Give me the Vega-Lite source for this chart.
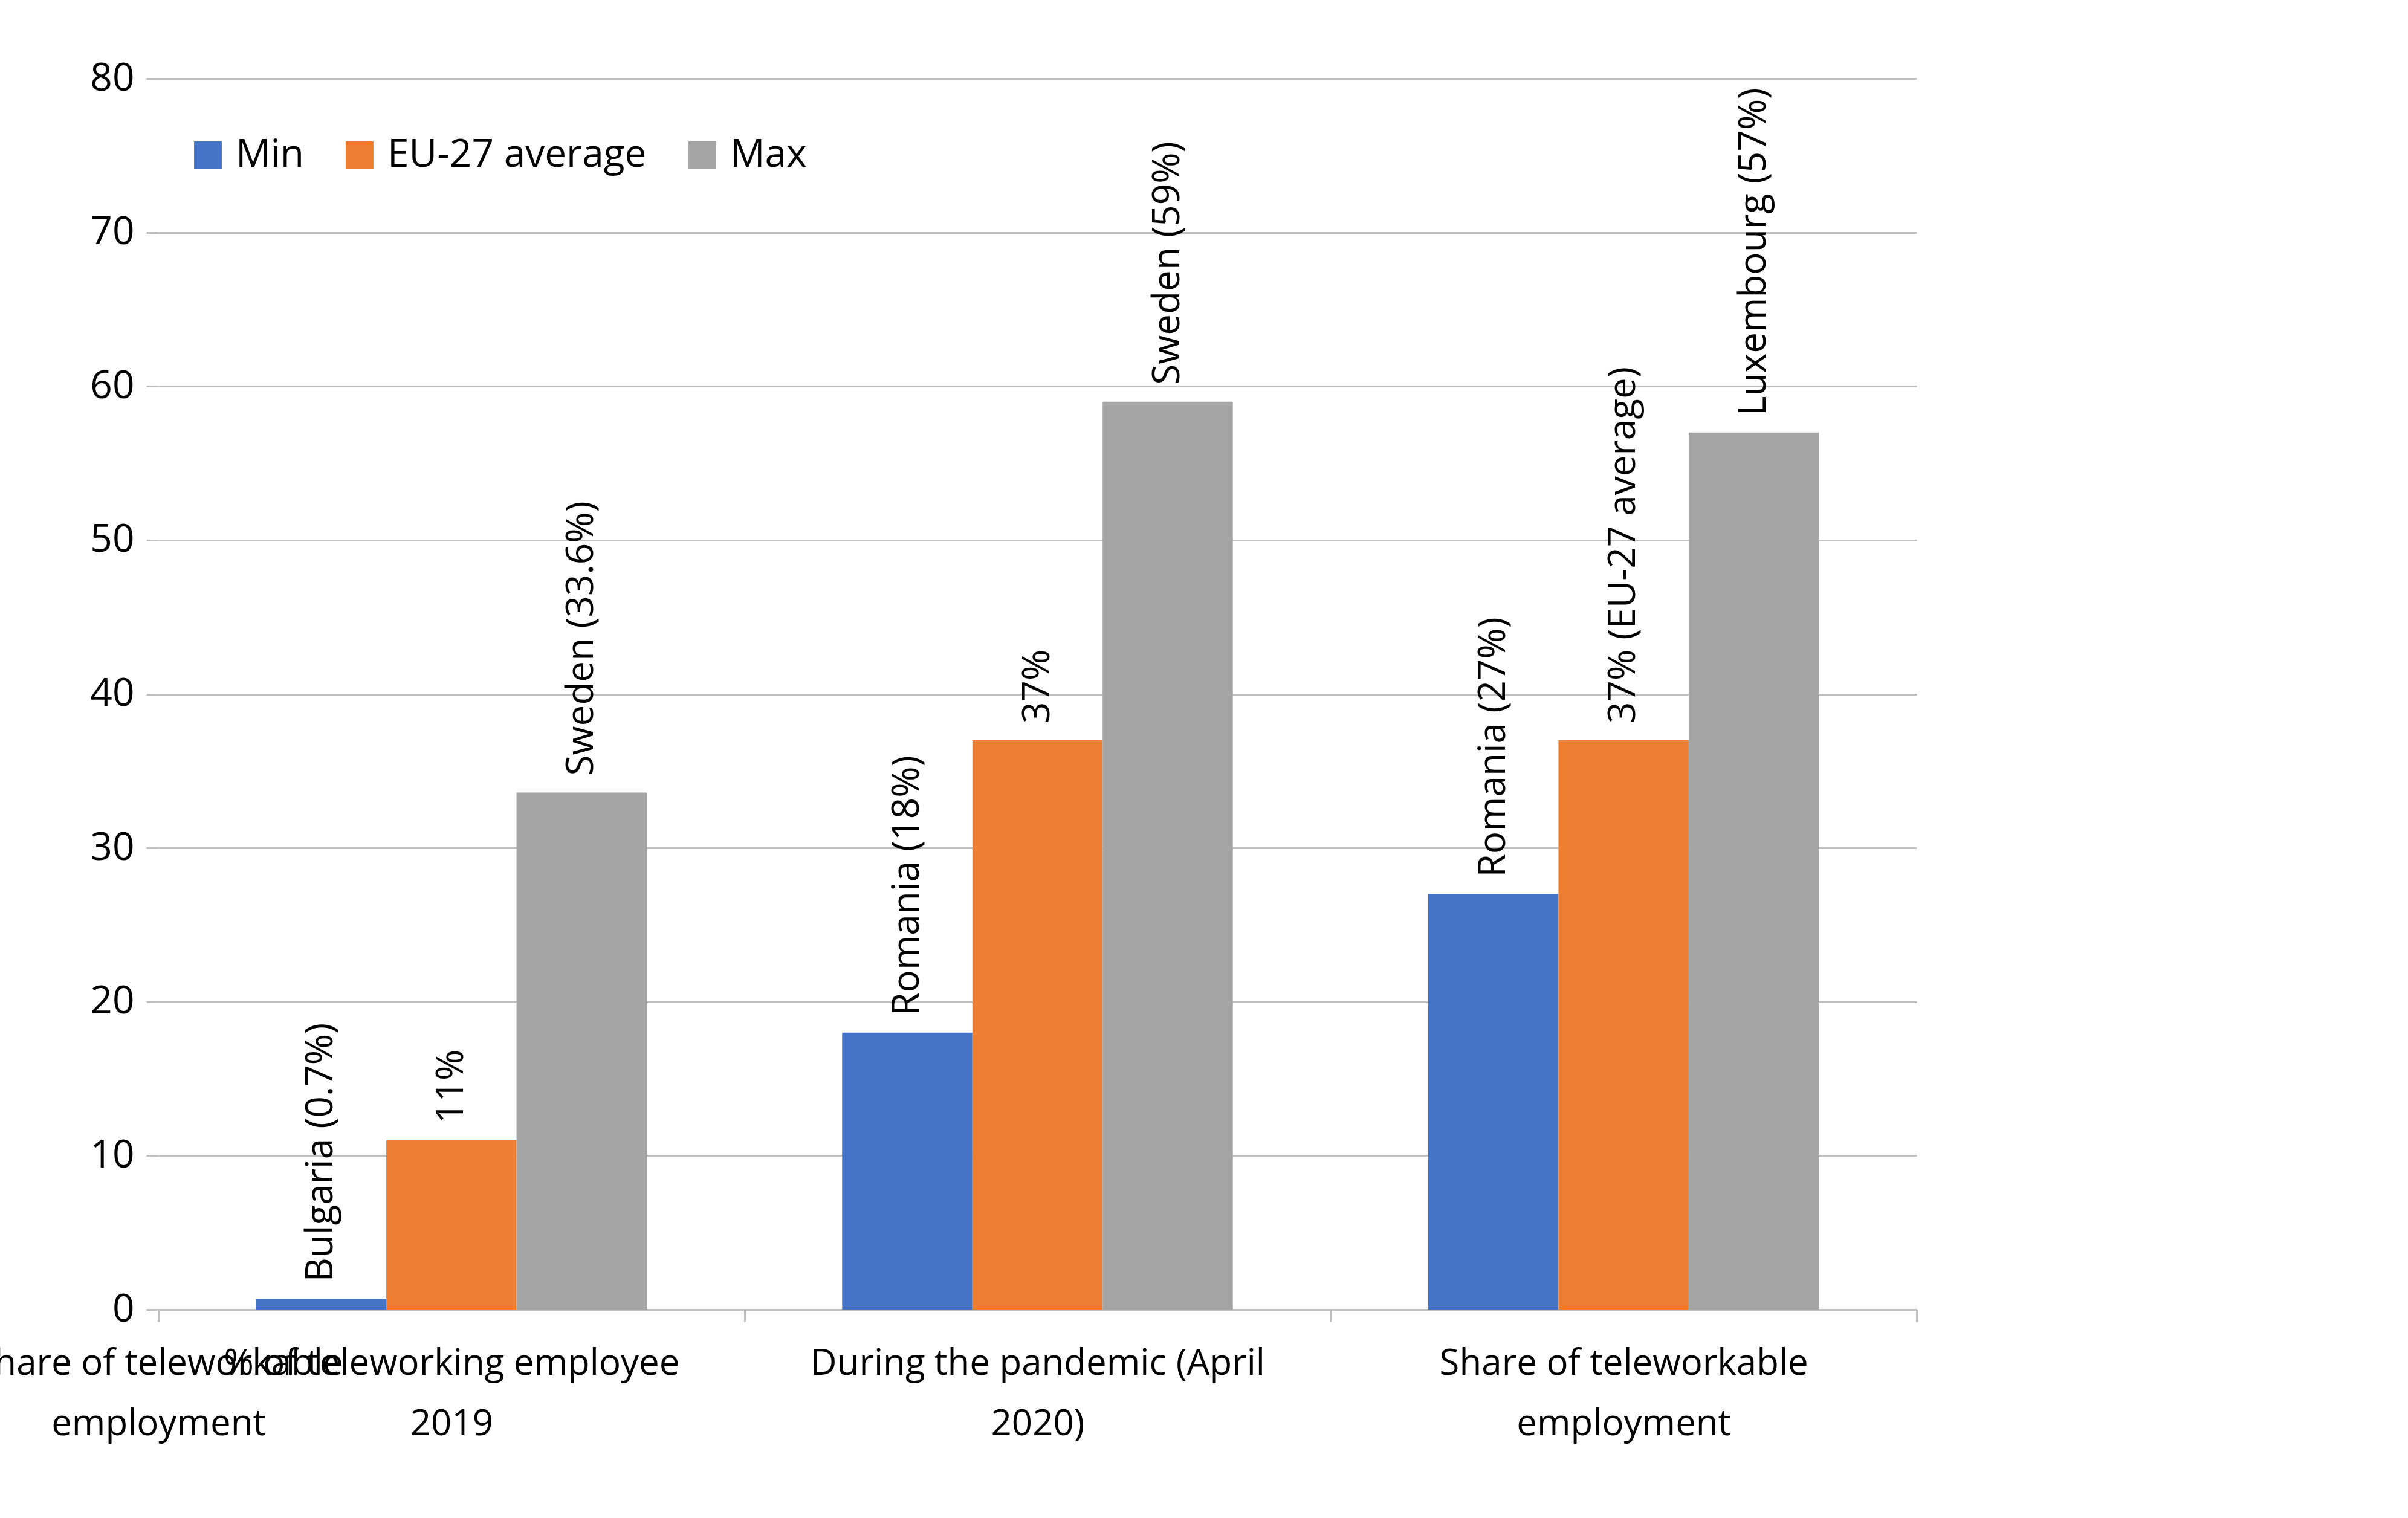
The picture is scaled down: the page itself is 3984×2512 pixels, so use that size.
{
"$schema":"https://vega.github.io/schema/vega-lite/v6.json",
"autosize":"none","width":2909,"height":2037,
"padding":{"left":262,"top":130,"right":813,"bottom":345},
"background":"white",
"config":{"view":{"stroke":null},"font":"Open Sans"},
"data":{"values":[
{"cat":"A","s":"Min","v":0.7,"lab":"Bulgaria (0.7%)"},
{"cat":"A","s":"EU-27 average","v":11,"lab":"11%"},
{"cat":"A","s":"Max","v":33.6,"lab":"Sweden (33.6%)"},
{"cat":"B","s":"Min","v":18,"lab":"Romania (18%)"},
{"cat":"B","s":"EU-27 average","v":37,"lab":"37%"},
{"cat":"B","s":"Max","v":59,"lab":"Sweden (59%)"},
{"cat":"C","s":"Min","v":27,"lab":"Romania (27%)"},
{"cat":"C","s":"EU-27 average","v":37,"lab":"37% (EU-27 average)"},
{"cat":"C","s":"Max","v":57,"lab":"Luxembourg (57%)"}
]},
"encoding":{
"x":{"field":"cat","type":"nominal","title":null,"scale":{"paddingInner":0,"paddingOuter":0},
 "axis":{"labelAngle":0,"tickBand":"extent","labelFontSize":60,"labelColor":"#000","labelPadding":40,"labelLineHeight":100,"labelBaseline":"top","labelLimit":0,"domainColor":"#bfbfbf","domainWidth":3,"tickColor":"#bfbfbf","tickWidth":3,"tickSize":20,
 "labelExpr":"datum.value=='A'?['% of teleworking employee','2019']:datum.value=='B'?['During the pandemic (April','2020)']:['Share of teleworkable','employment']"}},
"xOffset":{"field":"s","type":"nominal","sort":["Min","EU-27 average","Max"],"scale":{"paddingInner":0,"paddingOuter":0.75}},
"y":{"field":"v","type":"quantitative","title":null,"scale":{"domain":[0,80]},
 "axis":{"values":[0,10,20,30,40,50,60,70,80],"labelFontSize":64,"labelColor":"#000","domain":false,"gridColor":"#bfbfbf","gridWidth":3,"tickColor":"#bfbfbf","tickWidth":3,"tickSize":20,"labelPadding":20}}
},
"layer":[
{"mark":{"type":"bar"},"encoding":{"color":{"field":"s","type":"nominal","sort":["Min","EU-27 average","Max"],
 "scale":{"domain":["Min","EU-27 average","Max"],"range":["#4472C4","#ED7D31","#A5A5A5"]},
 "legend":{"title":null,"orient":"none","direction":"horizontal","legendX":50,"legendY":95,"labelFontSize":64,"labelLimit":0,"labelColor":"#000","symbolType":"square","symbolSize":2100,"symbolStrokeWidth":0,"columnPadding":60,"labelOffset":14}}}},
{"mark":{"type":"text","angle":270,"align":"left","baseline":"middle","dx":28,"fontSize":62,"color":"#000"},
 "encoding":{"text":{"field":"lab"}}}
]
}
